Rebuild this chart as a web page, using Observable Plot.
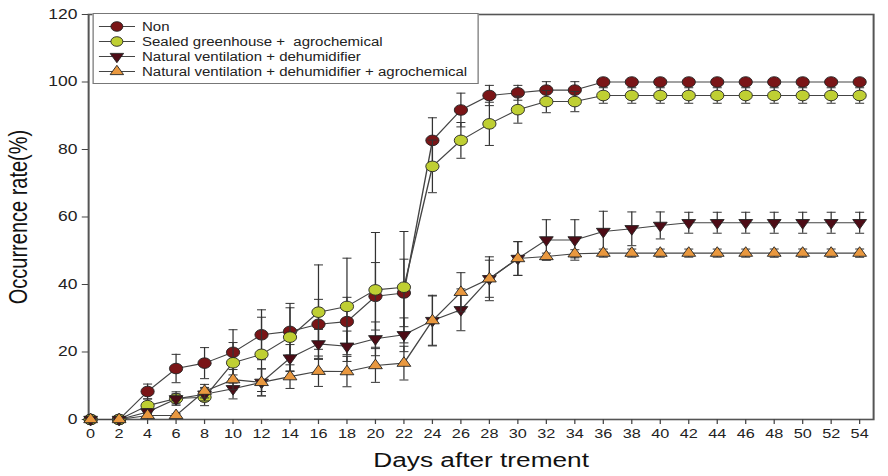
<!DOCTYPE html>
<html><head><meta charset="utf-8">
<script src="https://cdn.jsdelivr.net/npm/d3@7"></script>
<script src="https://cdn.jsdelivr.net/npm/@observablehq/plot@0.6"></script>
<style>
html,body{margin:0;padding:0;background:#fff;overflow:hidden;}
#wrap{position:relative;width:710.4px;height:476px;transform:scaleX(1.25);transform-origin:0 0;font-family:"Liberation Sans",Arial,sans-serif;}
#legend{position:absolute;left:73.6px;top:13px;width:309.6px;height:71px;box-sizing:border-box;border:1px solid #777;background:#fff;padding:5px 0 0 4px;}
.row{height:15px;display:flex;align-items:center;font-size:12px;color:#222;white-space:pre;}
.row svg{margin-right:6px;flex:none;}
</style></head><body><div id="wrap"><div id="legend"></div></div>
<script>
const days = [0,2,4,6,8,10,12,14,16,18,20,22,24,26,28,30,32,34,36,38,40,42,44,46,48,50,52,54];
const seriesNames = ["Non","Sealed greenhouse +  agrochemical","Natural ventilation + dehumidifier","Natural ventilation + dehumidifier + agrochemical"];
const nonVals   = [0,0,8.3,15.1,16.7,19.9,25.1,26.1,28.2,29.0,36.5,37.5,82.7,91.7,96.0,96.8,97.6,97.6,100,100,100,100,100,100,100,100,100,100];
const nonErr    = [0,0,2.2,4.2,4.6,6.7,7.4,7.0,7.4,7.2,10,10,6.7,5.0,3.0,2.2,2.5,2.5,0,0,0,0,0,0,0,0,0,0];
const sealedVals= [0,0,4.1,6.2,6.6,16.8,19.3,24.4,31.8,33.5,38.4,39.2,75.0,82.7,87.6,91.8,94.2,94.2,96,96,96,96,96,96,96,96,96,96];
const sealedErr = [0,0,2,2,2.5,6,11,10,14,14.3,17,16.5,7.8,5.3,6.4,4,3.3,3,2.3,2.3,2.3,2.3,2.3,2.3,2.3,2.3,2.3,2.3];
const ventVals  = [0,0,2.2,6.1,7.5,9.1,11,18.2,22.4,21.7,23.9,25.1,29.3,32.5,41.7,47.7,53.2,53.2,55.7,56.5,57.5,58.3,58.3,58.3,58.3,58.3,58.3,58.3];
const ventErr   = [0,0,1,1.5,2,3,4,4,4.3,4.5,5,5,7.5,6.2,5.5,5,6,6,6,5,4,3.1,3.1,3.1,3.1,3.1,3.1,3.1];
const ventAgVals= [0,0,1.2,1.2,8.4,11.8,11,12.7,14.3,14.2,16,16.7,29.3,37.7,41.7,47.7,48.3,49.1,49.3,49.3,49.3,49.3,49.3,49.3,49.3,49.3,49.3,49.3];
const ventAgErr = [0,0,0.5,0.5,2,3,4,3.5,4.5,4.5,5,5,7.3,5.8,6.5,5,1,1.2,1.2,1.2,1.2,1.2,1.2,1.2,1.2,1.2,1.2,1.2];
const yTicks = [0,20,40,60,80,100,120];
const xTitle = "Days after trement";
const yTitle = "Occurrence rate(%)";

const fills = ["#7a1517","#bfcf33","#4d0c16","#e9983f"];
const valsAll = [nonVals, sealedVals, ventVals, ventAgVals];
const errsAll = [nonErr, sealedErr, ventErr, ventAgErr];

const triUp = {draw(ctx, size){const s=Math.sqrt(size*4/Math.sqrt(3)),h=s*Math.sqrt(3)/2;ctx.moveTo(0,-2*h/3);ctx.lineTo(s/2,h/3);ctx.lineTo(-s/2,h/3);ctx.closePath();}};
const triDown = {draw(ctx, size){const s=Math.sqrt(size*4/Math.sqrt(3)),h=s*Math.sqrt(3)/2;ctx.moveTo(-s/2,-h/3);ctx.lineTo(s/2,-h/3);ctx.lineTo(0,2*h/3);ctx.closePath();}};
const cap = {draw(ctx){ctx.moveTo(-3.6,0);ctx.lineTo(3.6,0);}};
const symbols = ["circle","circle",triDown,triUp];
const radii = [5.3,5.3,4.1,4.1];

const marks = [
  Plot.frame({stroke:"#555", strokeWidth:1.6}),
  Plot.axisY({ticks:yTicks, tickSize:5, tickPadding:4, fontSize:14, label:null, stroke:"#444", color:"#222"}),
  Plot.axisX({ticks:days, tickSize:5, tickPadding:4, fontSize:13, label:null, stroke:"#444", color:"#222"}),
  Plot.text([yTitle], {text:d=>d, frameAnchor:"left", textAnchor:"middle", dx:-56, rotate:-90, fontSize:20, fill:"#111"}),
  Plot.text([xTitle], {text:d=>d, frameAnchor:"bottom", dy:48, fontSize:21, fill:"#111"})
];
seriesNames.forEach((name,i)=>{
  const rows = days.map((d,j)=>({day:d, v:valsAll[i][j], e:errsAll[i][j]}));
  const er = rows.filter(r=>r.e>0);
  marks.push(
    Plot.ruleX(er, {x:"day", y1:d=>d.v-d.e, y2:d=>d.v+d.e, stroke:"#333", strokeWidth:1}),
    Plot.dot(er, {x:"day", y:d=>d.v+d.e, symbol:cap, stroke:"#333", strokeWidth:1, r:2}),
    Plot.dot(er, {x:"day", y:d=>d.v-d.e, symbol:cap, stroke:"#333", strokeWidth:1, r:2}),
    Plot.line(rows, {x:"day", y:"v", stroke:"#444", strokeWidth:1.1}),
    Plot.dot(rows, {x:"day", y:"v", symbol:symbols[i], r:radii[i], fill:fills[i], stroke:"#222", strokeWidth:0.8})
  );
});

const chart = Plot.plot({
  width:710.4, height:476,
  marginLeft:70.4, marginRight:12, marginTop:14, marginBottom:57,
  x:{domain:[-0.14,54.98]},
  y:{domain:[0,120]},
  style:{fontFamily:'"Liberation Sans", Arial, sans-serif', background:"#fff", color:"#222"},
  marks
});
const wrap = document.getElementById("wrap");
wrap.insertBefore(chart, wrap.firstChild);

// legend
const legend = document.getElementById("legend");
const ns = "http://www.w3.org/2000/svg";
seriesNames.forEach((name,i)=>{
  const row = document.createElement("div"); row.className="row";
  const svg = document.createElementNS(ns,"svg"); svg.setAttribute("width",29); svg.setAttribute("height",15);
  const ln = document.createElementNS(ns,"line");
  ln.setAttribute("x1",0);ln.setAttribute("x2",29);ln.setAttribute("y1",7.5);ln.setAttribute("y2",7.5);ln.setAttribute("stroke","#444");ln.setAttribute("stroke-width",1.1);
  svg.appendChild(ln);
  let m;
  if (symbols[i]==="circle"){ m=document.createElementNS(ns,"circle"); m.setAttribute("cx",14.5);m.setAttribute("cy",7.5);m.setAttribute("r",4.8); }
  else { m=document.createElementNS(ns,"path"); const p=d3.path(); symbols[i].draw(p, Math.PI*4*4); m.setAttribute("d",p.toString()); m.setAttribute("transform","translate(14.5,7.5)"); }
  m.setAttribute("fill",fills[i]); m.setAttribute("stroke","#222"); m.setAttribute("stroke-width",0.8);
  svg.appendChild(m);
  row.appendChild(svg);
  const t=document.createElement("span"); t.textContent=name; row.appendChild(t);
  legend.appendChild(row);
});
</script></body></html>
